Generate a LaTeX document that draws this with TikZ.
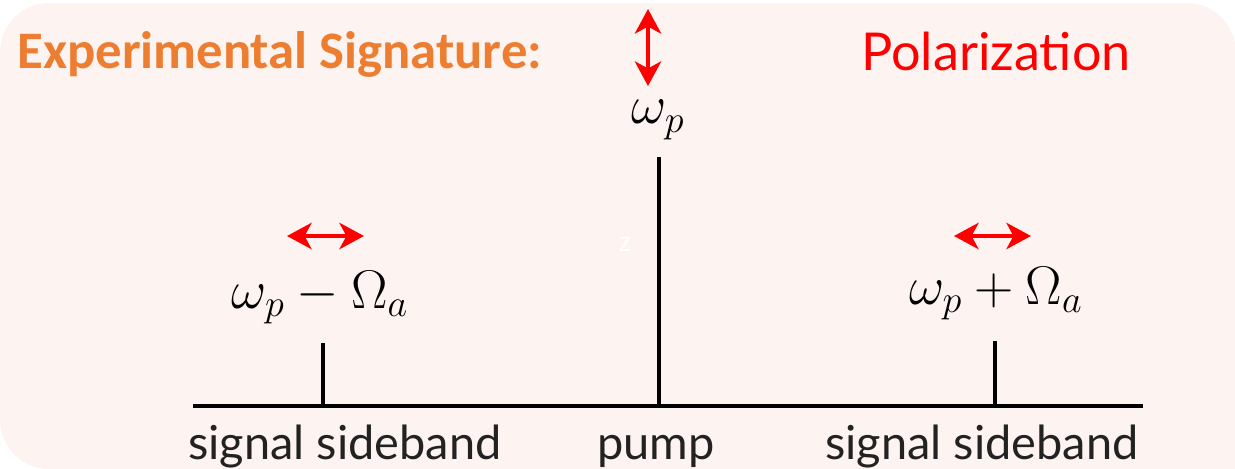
\RequirePackage{fix-cm}
\documentclass[tikz,border=0pt]{standalone}
\usepackage{fontspec}
\usepackage{tikz}
\usetikzlibrary{arrows.meta,positioning}
\newfontfamily\headfont{Carlito}
\newfontfamily\labelfont{Lato}
\definecolor{sigbg}{HTML}{FDF4F1}
\definecolor{sigorange}{HTML}{ED7D31}
\definecolor{sigred}{HTML}{FF0000}
\definecolor{labelgray}{HTML}{222222}

\tikzset{
  axisline/.style={line width=2.8pt, black},
  peakline/.style={line width=2.8pt, black},
  polarrow/.style={line width=2.2pt, sigred,
    {Stealth[length=14pt,width=15pt,inset=4pt]}-{Stealth[length=14pt,width=15pt,inset=4pt]}},
  freqlabel/.style={inner sep=0pt, font=\fontsize{31}{36}\selectfont},
  bandlabel/.style={inner sep=0pt, anchor=base, text=labelgray,
    font=\labelfont\fontsize{26.7}{32}\selectfont}
}

\begin{document}
\begin{tikzpicture}[x=0.02cm, y=-0.02cm]
    \useasboundingbox (0,0) rectangle (1235,468);
    \fill[sigbg, rounded corners=28pt] (0,3) rectangle (1236,469);
    \fill[sigbg] (1180,420) rectangle (1236,469);

    % heading texts
    \node[anchor=west, inner sep=0pt, text=sigorange,
          font=\headfont\bfseries\fontsize{30}{35}\selectfont] (title) at (17,54) {Experimental Signature:};
    \node[inner sep=0pt, text=sigred,
          font=\labelfont\fontsize{29.7}{34}\selectfont] (pol) at (996,51) {Polarization};

    % frequency axis and peaks
    \coordinate (axL) at (193,406);
    \coordinate (axR) at (1143,406);
    \coordinate (lbase) at (323,406);
    \coordinate (ltop) at (323,343);
    \coordinate (pbase) at (659,406);
    \coordinate (ptop) at (659,157);
    \coordinate (rbase) at (995,406);
    \coordinate (rtop) at (995,341);
    \draw[axisline] (axL) -- (axR);
    \draw[peakline] (lbase) -- (ltop);
    \draw[peakline] (pbase) -- (ptop);
    \draw[peakline] (rbase) -- (rtop);

    \node[freqlabel] (lfreq) at (320,298) {$\omega_p-\Omega_a$};
    \node[freqlabel] (pfreq) at (658,120) {$\omega_p$};
    \node[freqlabel] (rfreq) at (996,294) {$\omega_p+\Omega_a$};

    % polarization arrows
    \coordinate (lpolA) at (287,236);
    \coordinate (lpolB) at (364,236);
    \coordinate (rpolA) at (954,236);
    \coordinate (rpolB) at (1031,236);
    \coordinate (ppolA) at (648,9);
    \coordinate (ppolB) at (648,86);
    \draw[polarrow] (lpolA) -- (lpolB);
    \draw[polarrow] (rpolA) -- (rpolB);
    \draw[polarrow] (ppolA) -- (ppolB);

    \node[text=white, inner sep=0pt, font=\labelfont\fontsize{16}{18}\selectfont] (zmark) at (625,244) {z};

    \node[bandlabel] (lband) at (345,459) {signal sideband};
    \node[bandlabel] (pband) at (656,459) {pump};
    \node[bandlabel] (rband) at (982,459) {signal sideband};
  \end{tikzpicture}
\end{document}
